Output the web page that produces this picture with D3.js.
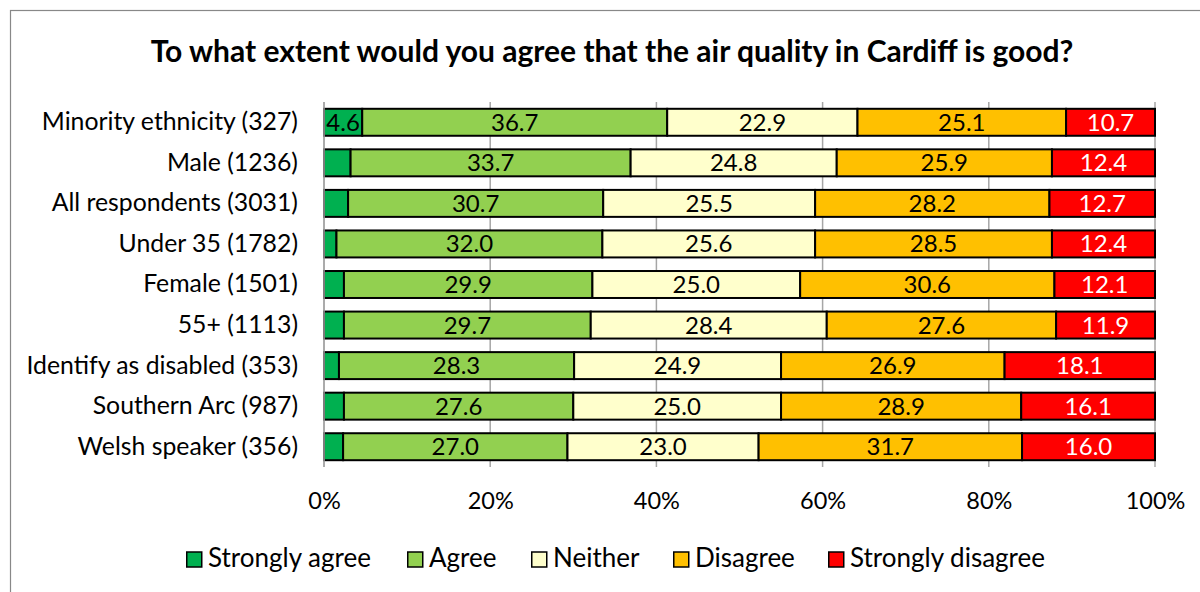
<!DOCTYPE html>
<html><head><meta charset="utf-8">
<script src="https://cdn.jsdelivr.net/npm/d3@7"></script>
<style>body{margin:0;background:#fff;}svg{display:block;font-family:Lato,"Open Sans",sans-serif;}</style>
</head><body><svg id="c" width="1200" height="592"></svg>
<script>
const categories = ["Minority ethnicity (327)","Male (1236)","All respondents (3031)","Under 35 (1782)","Female (1501)","55+ (1113)","Identify as disabled (353)","Southern Arc (987)","Welsh speaker (356)"];
const seriesNames = ["Strongly agree","Agree","Neither","Disagree","Strongly disagree"];
const stronglyAgree = [4.6,3.2,2.9,1.5,2.4,2.4,1.8,2.4,2.3];
const agree = [36.7,33.7,30.7,32.0,29.9,29.7,28.3,27.6,27.0];
const neither = [22.9,24.8,25.5,25.6,25.0,28.4,24.9,25.0,23.0];
const disagree = [25.1,25.9,28.2,28.5,30.6,27.6,26.9,28.9,31.7];
const stronglyDisagree = [10.7,12.4,12.7,12.4,12.1,11.9,18.1,16.1,16.0];
const stronglyAgreeLabelled = [true,false,false,false,false,false,false,false,false];
const tickValues = [0,20,40,60,80,100];
const colors = ["#00B050","#92D050","#FFFFCC","#FFC000","#FF0000"];
const labelColors = ["#000","#000","#000","#000","#fff"];
const title = "To what extent would you agree that the air quality in Cardiff is good?";

const svg = d3.select("#c");
const series = [stronglyAgree,agree,neither,disagree,stronglyDisagree];
const rows = categories.map((c,i)=>{const o={cat:c,idx:i}; seriesNames.forEach((s,j)=>o[s]=series[j][i]); return o;});
const stacked = d3.stack().keys(seriesNames)(rows);

const L=324, R=1155, T=102, B=467;
const x = d3.scaleLinear().domain([0,100]).range([L,R]);
const y = d3.scaleBand().domain(categories).range([T,B]).paddingInner(0.335).paddingOuter(0.1675);
const FF = "Lato,'Open Sans',sans-serif";

svg.append("rect").attr("x",10.5).attr("y",10.5).attr("width",1300).attr("height",700).attr("fill","none").attr("stroke","#888").attr("stroke-width",1.2);

svg.append("text").attr("x",612).attr("y",62).attr("text-anchor","middle").attr("font-weight","bold").attr("font-size",30).attr("fill","#000").text(title);

// gridlines
svg.append("g").selectAll("line").data(tickValues).join("line")
  .attr("x1",d=>x(d)).attr("x2",d=>x(d)).attr("y1",T).attr("y2",B)
  .attr("stroke","#a6a6a6").attr("stroke-width",1.5);

// x axis labels
const xa = svg.append("g").attr("transform",`translate(0,${B})`).call(d3.axisBottom(x).tickValues(tickValues).tickFormat(d=>d+"%").tickSize(0).tickPadding(25));
xa.select(".domain").remove();
xa.selectAll("text").attr("font-size",23.5).attr("fill","#000").attr("font-family",FF);

// y axis labels
const ya = svg.append("g").attr("transform",`translate(${L},0)`).call(d3.axisLeft(y).tickSize(0).tickPadding(26));
ya.select(".domain").remove();
ya.selectAll("text").attr("font-size",24.8).attr("fill","#000").attr("font-family",FF);

const g = svg.append("g");
stacked.forEach((s,j)=>{
  const grp = g.append("g");
  grp.selectAll("rect").data(s).join("rect")
    .attr("x",d=>x(d[0])).attr("width",d=>x(d[1])-x(d[0]))
    .attr("y",d=>y(d.data.cat)).attr("height",y.bandwidth())
    .attr("fill",colors[j]).attr("stroke","#000").attr("stroke-width",2);
  grp.selectAll("text").data(s.filter(d=>j>0 || stronglyAgreeLabelled[d.data.idx])).join("text")
    .attr("x",d=>(x(d[0])+x(d[1]))/2).attr("y",d=>y(d.data.cat)+y.bandwidth()/2+8.5)
    .attr("text-anchor","middle").attr("font-size",24).attr("fill",labelColors[j])
    .text(d=>(d[1]-d[0]).toFixed(1));
});
// left axis line
svg.append("line").attr("x1",L).attr("x2",L).attr("y1",T).attr("y2",B).attr("stroke","#a6a6a6").attr("stroke-width",1.5);

// legend
const legX = [186,407,531,673,828];
const lg = svg.append("g");
seriesNames.forEach((n,j)=>{
  lg.append("rect").attr("x",legX[j]+0.75).attr("y",552).attr("width",15).attr("height",15).attr("fill",colors[j]).attr("stroke","#000").attr("stroke-width",1.5);
  lg.append("text").attr("x",legX[j]+22).attr("y",567).attr("font-size",26).attr("fill","#000").text(n);
});
</script></body></html>
